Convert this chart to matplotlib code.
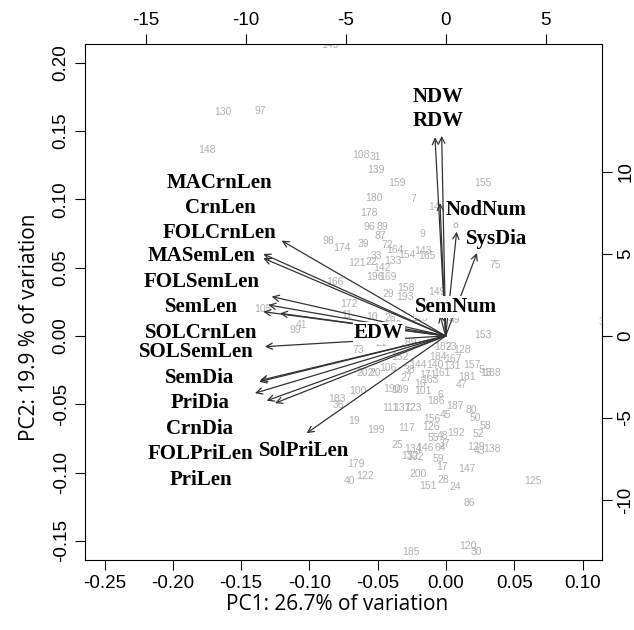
import matplotlib
matplotlib.use("Agg")
import matplotlib.pyplot as plt

# observation scores (PC1, PC2), bottom/left axes
obs_ids = ["130", "97", "148", "145", "108", "31", "139", "159", "155", "180",
           "7", "14", "178", "96", "89", "8", "87", "9", "98", "174",
           "39", "72", "33", "164", "154", "143", "165", "121", "22", "133",
           "75", "142", "196", "169", "166", "158", "29", "193", "149", "172",
           "10", "26", "105", "99", "41", "11", "153", "21", "189", "73",
           "182", "23", "128", "184", "167", "152", "144", "140", "131", "157",
           "5", "188", "13", "106", "38", "202", "20", "27", "171", "161",
           "181", "163", "16", "47", "100", "190", "109", "101", "6", "183",
           "186", "187", "80", "111", "137", "123", "45", "156", "50", "126",
           "58", "19", "199", "117", "55", "48", "192", "52", "25", "134",
           "146", "64", "37", "129", "43", "138", "102", "132", "59", "17",
           "147", "179", "122", "40", "200", "28", "151", "24", "125", "86",
           "185", "120", "30", "36", "135", "115", "49", "160", "3"]
pc1 = [-0.1630, -0.1362, -0.1752, -0.0849, -0.0624, -0.0520, -0.0512, -0.0361, 0.0269, -0.0527,
       -0.0239, -0.0088, -0.0561, -0.0561, -0.0463, 0.0068, -0.0483, -0.0176, -0.0862, -0.0761,
       -0.0605, -0.0430, -0.0507, -0.0373, -0.0288, -0.0166, -0.0141, -0.0654, -0.0544, -0.0390,
       0.0359, -0.0471, -0.0520, -0.0422, -0.0813, -0.0293, -0.0422, -0.0300, -0.0068, -0.0708,
       -0.0544, -0.0410, -0.1337, -0.1105, -0.1056, -0.0727, 0.0269, -0.0471, -0.0276, -0.0642,
       -0.0020, 0.0042, 0.0115, -0.0056, 0.0053, -0.0337, -0.0203, -0.0081, 0.0044, 0.0190,
       0.0256, 0.0340, 0.0293, -0.0422, -0.0266, -0.0593, -0.0520, -0.0288, -0.0130, -0.0031,
       0.0152, -0.0117, -0.0187, 0.0115, -0.0648, -0.0398, -0.0340, -0.0166, -0.0044, -0.0800,
       -0.0073, 0.0066, 0.0188, -0.0410, -0.0324, -0.0239, -0.0007, -0.0105, 0.0212, -0.0110,
       0.0286, -0.0673, -0.0512, -0.0288, -0.0093, -0.0024, 0.0073, 0.0236, -0.0359, -0.0239,
       -0.0154, -0.0044, -0.0012, 0.0220, 0.0244, 0.0335, -0.0227, -0.0264, -0.0056, -0.0031,
       0.0152, -0.0659, -0.0593, -0.0708, -0.0203, -0.0020, -0.0130, 0.0066, 0.0639, 0.0171,
       -0.0256, 0.0163, 0.0225, -0.0788, -0.0205, -0.0190, 0.0066, -0.0388, 0.1135]
pc2 = [0.1638, 0.1649, 0.1362, 0.2130, 0.1325, 0.1308, 0.1215, 0.1118, 0.1118, 0.1012,
       0.1001, 0.0942, 0.0897, 0.0796, 0.0800, 0.0813, 0.0732, 0.0747, 0.0699, 0.0644,
       0.0671, 0.0666, 0.0586, 0.0630, 0.0593, 0.0624, 0.0586, 0.0537, 0.0544, 0.0549,
       0.0520, 0.0496, 0.0434, 0.0434, 0.0398, 0.0349, 0.0307, 0.0288, 0.0324, 0.0234,
       0.0141, 0.0130, 0.0195, 0.0044, 0.0081, 0.0154, 0.0004, -0.0053, -0.0053, -0.0106,
       -0.0078, -0.0078, -0.0106, -0.0152, -0.0171, -0.0154, -0.0212, -0.0214, -0.0221, -0.0214,
       -0.0247, -0.0269, -0.0271, -0.0231, -0.0249, -0.0273, -0.0273, -0.0306, -0.0289, -0.0273,
       -0.0298, -0.0322, -0.0353, -0.0359, -0.0401, -0.0390, -0.0395, -0.0403, -0.0430, -0.0463,
       -0.0476, -0.0512, -0.0542, -0.0529, -0.0529, -0.0525, -0.0578, -0.0610, -0.0598, -0.0664,
       -0.0659, -0.0621, -0.0688, -0.0671, -0.0749, -0.0732, -0.0712, -0.0717, -0.0798, -0.0829,
       -0.0818, -0.0818, -0.0793, -0.0810, -0.0840, -0.0829, -0.0888, -0.0878, -0.0903, -0.0957,
       -0.0974, -0.0935, -0.1023, -0.1059, -0.1010, -0.1054, -0.1098, -0.1103, -0.1059, -0.1225,
       -0.1583, -0.1537, -0.1583, -0.0505, 0.1532, 0.0132, 0.0117, 0.0081, 0.0102]

# variable loadings, top/right axes
var_names = ["NDW", "RDW", "NodNum", "EDW", "SysDia", "SemNum",
             "MACrnLen", "CrnLen", "FOLCrnLen", "MASemLen", "FOLSemLen", "SemLen",
             "SOLCrnLen", "SOLSemLen", "SemDia", "PriDia", "CrnDia", "FOLPriLen",
             "PriLen", "SolPriLen"]
load1 = [-0.20, -0.535, -0.285, 0.55, 1.565, -0.285,
         -8.20, -9.12, -9.12, -8.70, -8.87, -9.12,
         -8.285, -9.035, -9.32, -9.285, -9.535, -8.95,
         -8.535, -6.95]
load2 = [12.20, 12.12, 8.11, 6.36, 5.06, 1.28,
         5.81, 5.00, 4.74, 2.40, 1.89, 1.48,
         1.38, -0.65, -2.79, -2.71, -3.49, -3.95,
         -4.10, -5.93]

# where the variable names were placed (loading units)
lab_x = [-0.40, -0.40, 2.03, -3.335, 2.55, 0.515,
         -11.285, -11.285, -11.285, -12.2, -12.2, -12.2,
         -12.2, -12.45, -12.285, -12.285, -12.285, -12.25,
         -12.25, -7.085]
lab_y = [14.59, 13.11, 7.65, 0.20, 5.90, 1.79,
         9.33, 7.79, 6.26, 4.88, 3.31, 1.79,
         0.20, -0.96, -2.58, -4.10, -5.67, -7.21,
         -8.78, -6.99]

W, H = 634, 630
fig = plt.figure(figsize=(W / 100, H / 100), dpi=100)
rect = [85 / W, 70 / H, 517 / W, 516 / H]
ax = fig.add_axes(rect)
ax2 = fig.add_axes(rect, frameon=False)

tickfont = dict(family="Liberation Sans", size=13.5)

ax.set_xlim(-0.2643, 0.1142)
ax.set_ylim(-0.1640, 0.2138)
ax.set_xticks([-0.25, -0.20, -0.15, -0.10, -0.05, 0.00, 0.05, 0.10])
ax.set_yticks([-0.15, -0.10, -0.05, 0.00, 0.05, 0.10, 0.15, 0.20])
ax.set_xticklabels(["%.2f" % t for t in ax.get_xticks()], fontdict=tickfont)
ax.set_yticklabels(["%.2f" % t for t in ax.get_yticks()], fontdict=tickfont,
                   rotation=90, va="center")
ax.tick_params(length=7, width=0.8, pad=4)
for s in ax.spines.values():
    s.set_linewidth(0.8)

for lab, x, y in zip(obs_ids, pc1, pc2):
    ax.text(x, y, lab, color="#b0b0b0", fontsize=7.5, family="Liberation Sans",
            ha="center", va="center", clip_on=True, zorder=1)

ax2.set_xlim(-18.03, 7.815)
ax2.set_ylim(-13.66, 17.80)
ax2.xaxis.tick_top()
ax2.yaxis.tick_right()
ax2.set_xticks([-15, -10, -5, 0, 5])
ax2.set_yticks([-10, -5, 0, 5, 10])
ax2.set_xticklabels(["-15", "-10", "-5", "0", "5"], fontdict=tickfont)
ax2.set_yticklabels(["-10", "-5", "0", "5", "10"], fontdict=tickfont,
                    rotation=90, va="center")
ax2.tick_params(length=7, width=0.8, pad=4)
ax2.patch.set_alpha(0)

for u, v in zip(load1, load2):
    ax2.annotate("", xy=(u, v), xytext=(0, 0),
                 arrowprops=dict(arrowstyle="->", lw=0.9, color="#333333",
                                 mutation_scale=11, shrinkA=0, shrinkB=0),
                 zorder=3)

for name, x, y in zip(var_names, lab_x, lab_y):
    ax2.text(x, y, name, family="Liberation Serif", weight="bold", fontsize=15,
             ha="center", va="center", zorder=4,
             bbox=dict(boxstyle="square,pad=0.05", fc="white", ec="none"))

fig.text(337 / W, 1 - 605 / H, "PC1: 26.7% of variation", family="Open Sans",
         fontsize=15, ha="center", va="center")
fig.text(30 / W, 1 - 327 / H, "PC2: 19.9 % of variation", family="Open Sans",
         fontsize=15, ha="center", va="center", rotation=90)

fig.savefig("out.png", dpi=100)
